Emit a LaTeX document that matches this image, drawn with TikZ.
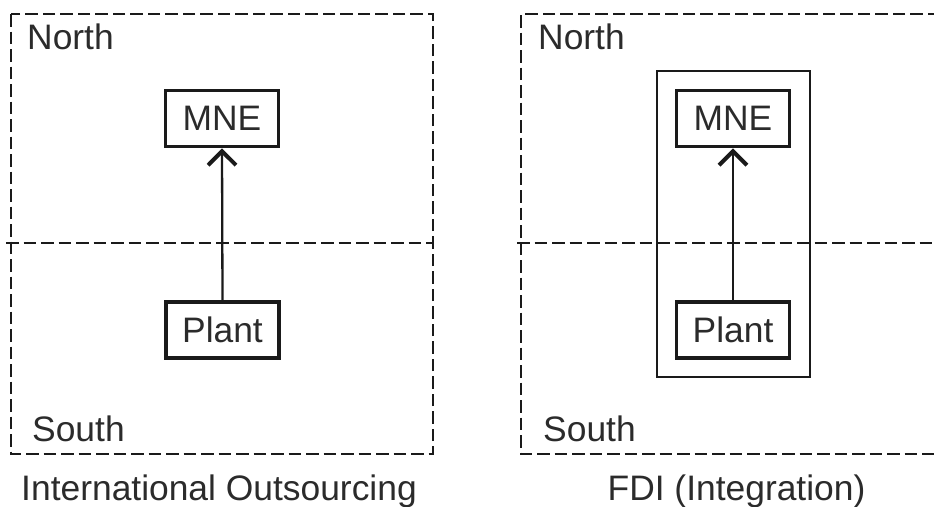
\documentclass[tikz,border=0pt]{standalone}
\usepackage{fontspec}
\setmainfont{Liberation Sans}
\usetikzlibrary{arrows.meta}
\definecolor{txt}{HTML}{2B2B2B}
\definecolor{ln}{HTML}{1A1A1A}
\tikzset{
  region/.style={draw=ln, line width=2.4pt, dash pattern=on 12.5pt off 5pt},
  firmbox/.style={draw=ln, line width=3.8pt, minimum width=113pt, minimum height=56pt, inner sep=0pt, text=txt},
  label/.style={text=txt, inner sep=0pt},
  outer/.style={draw=ln, line width=2pt, minimum width=153pt, minimum height=306pt, inner sep=0pt},
  link/.style={draw=ln, line width=2.3pt, -{Straight Barb[length=14pt,width=28pt,line width=4pt]}}
}
\begin{document}
\begin{tikzpicture}[x=1pt,y=-1pt, every node/.style={font=\fontsize{35.4}{42}\selectfont}]
\useasboundingbox (0,0) rectangle (934,506);
% left panel
\draw[region] (11,14) rectangle (433,454);
\draw[region] (6,243) -- (433,243);
\node[label, anchor=base west] (northL) at (27,49) {North};
\node[label, anchor=base west] (southL) at (32,441) {South};
\node[firmbox] (mneL) at (222,118.5) {MNE};
\node[firmbox] (plantL) at (222.5,330) {Plant};
\draw[link] (plantL.north) -- (mneL.south);
\node[label, anchor=base] (capL) at (219,500) {International Outsourcing};
% right panel
\draw[region] (940,14) -- (521,14) -- (521,454) -- (940,454);
\draw[region] (517,243) -- (940,243);
\node[label, anchor=base west] (northR) at (538,49) {North};
\node[label, anchor=base west] (southR) at (543,441) {South};
\node[outer] (firmR) at (733.5,224) {};
\node[firmbox] (mneR) at (733,118.5) {MNE};
\node[firmbox] (plantR) at (733,330) {Plant};
\draw[link] (plantR.north) -- (mneR.south);
\node[label, anchor=base] (capR) at (736.5,500) {FDI (Integration)};
\end{tikzpicture}
\end{document}
